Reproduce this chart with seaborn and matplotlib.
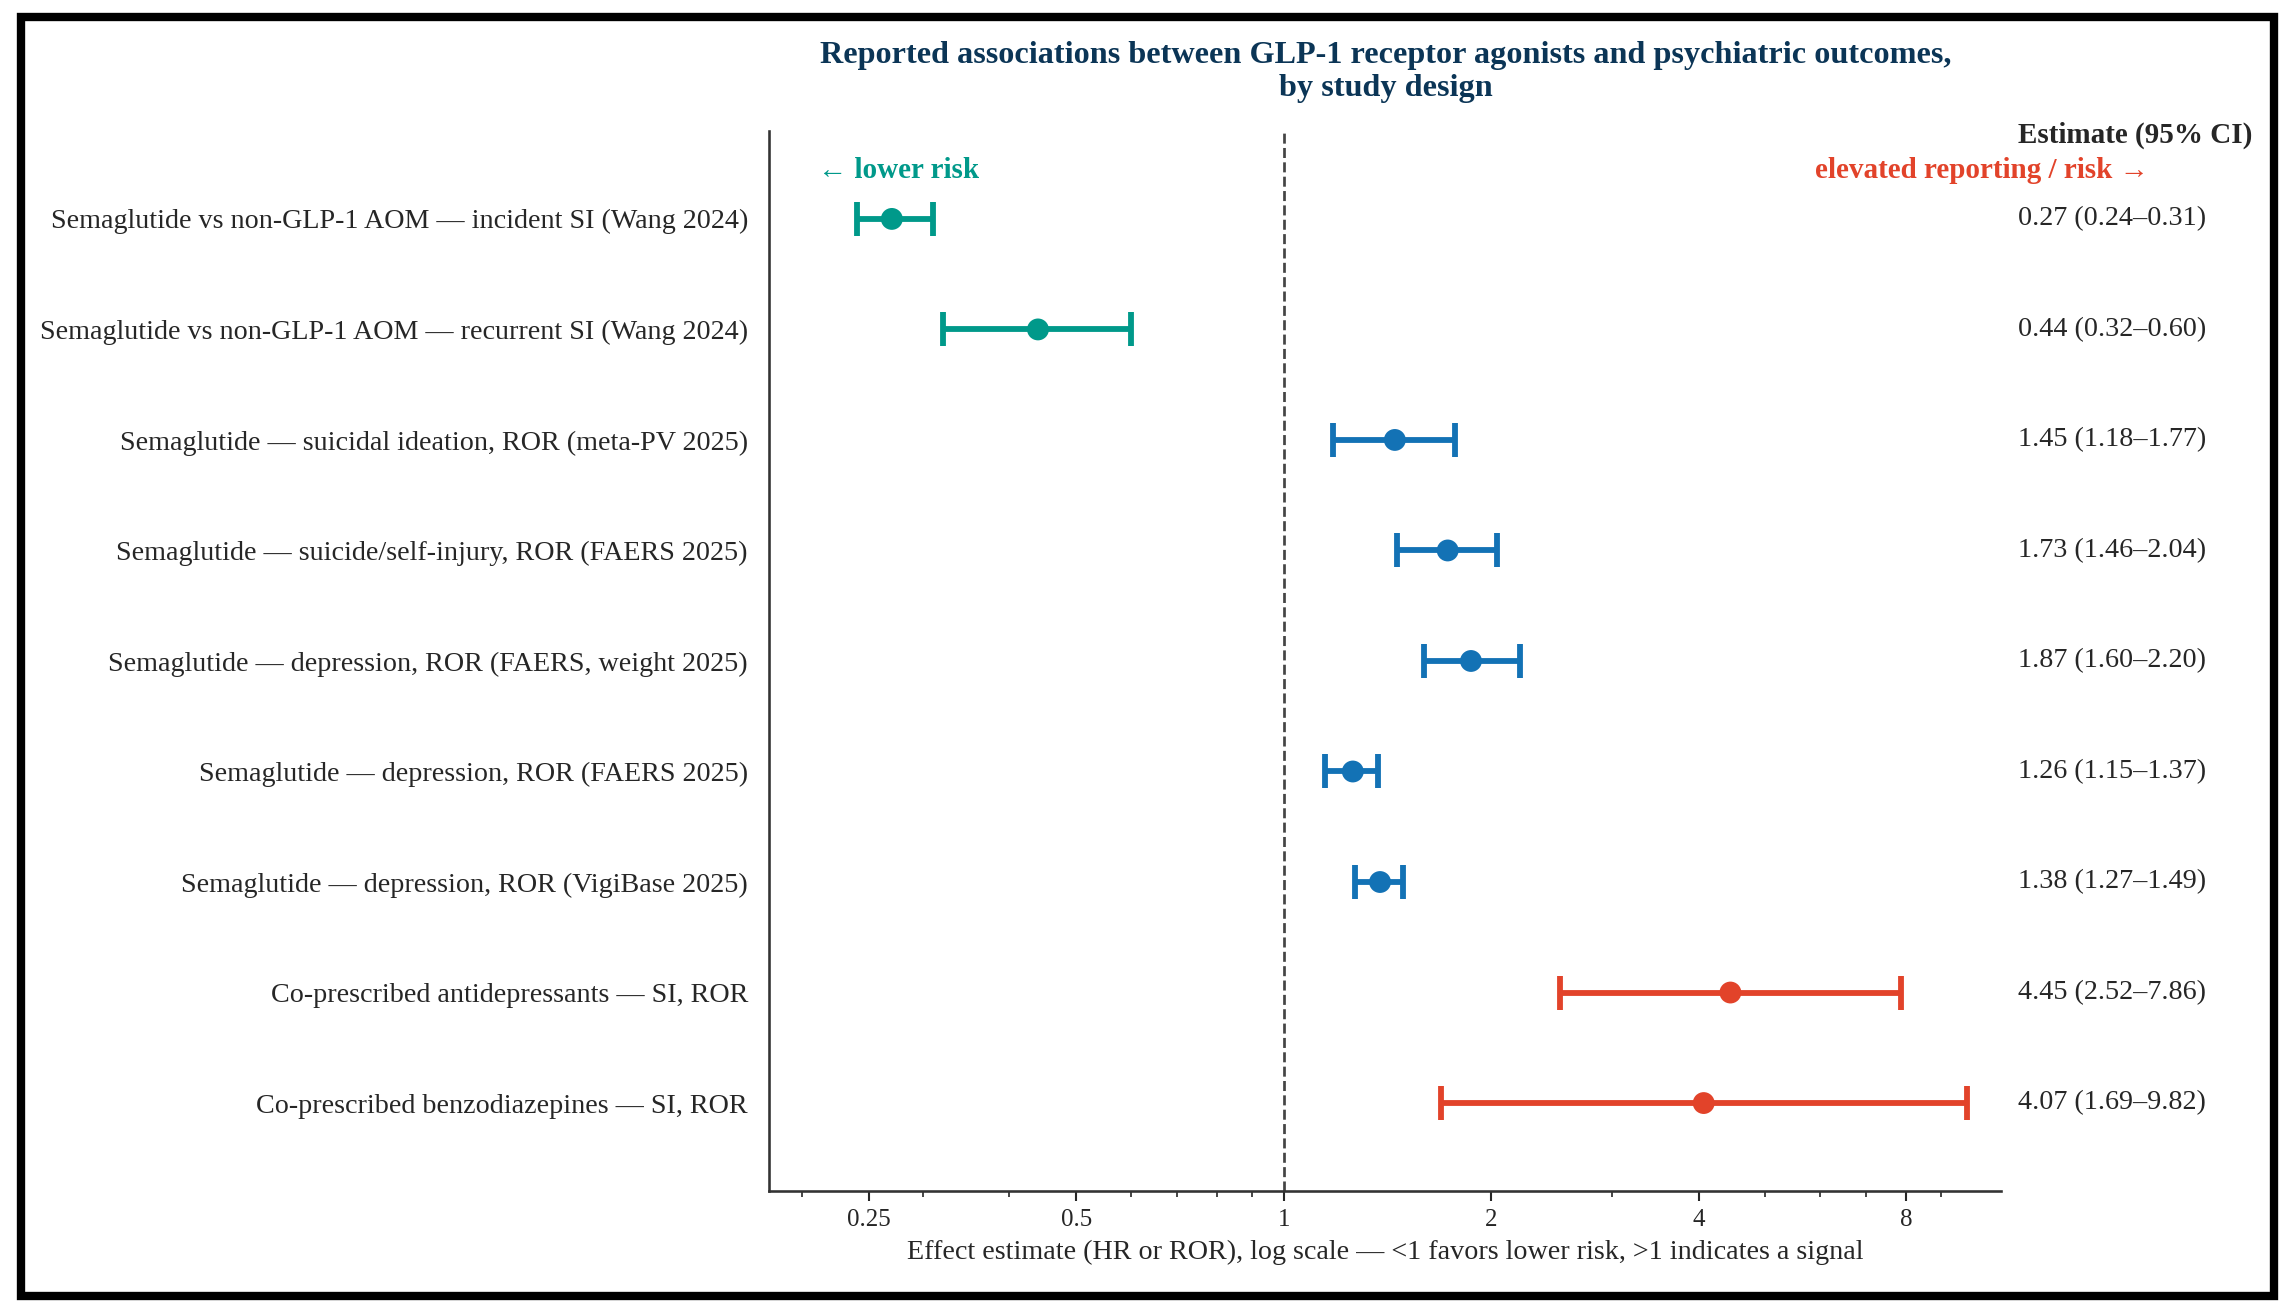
import numpy as np
import pandas as pd
import matplotlib.pyplot as plt
import seaborn as sns
from matplotlib.patches import Rectangle
from matplotlib.ticker import FixedLocator, NullFormatter, LogLocator

sns.set_theme(style="white")
plt.rcParams["font.family"] = ["Liberation Serif", "DejaVu Serif"]


# ── Data: estimates and 95% CI ─────────────────────────────────────────
df = pd.DataFrame({
    "label": [
        "Semaglutide vs non-GLP-1 AOM — incident SI (Wang 2024)",
        "Semaglutide vs non-GLP-1 AOM — recurrent SI (Wang 2024)",
        "Semaglutide — suicidal ideation, ROR (meta-PV 2025)",
        "Semaglutide — suicide/self-injury, ROR (FAERS 2025)",
        "Semaglutide — depression, ROR (FAERS, weight 2025)",
        "Semaglutide — depression, ROR (FAERS 2025)",
        "Semaglutide — depression, ROR (VigiBase 2025)",
        "Co-prescribed antidepressants — SI, ROR",
        "Co-prescribed benzodiazepines — SI, ROR",
    ],
    "est": [0.27, 0.44, 1.45, 1.73, 1.87, 1.26, 1.38, 4.45, 4.07],
    "lo":  [0.24, 0.32, 1.18, 1.46, 1.60, 1.15, 1.27, 2.52, 1.69],
    "hi":  [0.31, 0.60, 1.77, 2.04, 2.20, 1.37, 1.49, 7.86, 9.82],
    "group": ["lower", "lower", "pv", "pv", "pv", "pv", "pv", "co", "co"],
})
df["y"] = np.arange(len(df))
palette = {"lower": "#00998a", "pv": "#1372b5", "co": "#e2432a"}

fig = plt.figure(figsize=(15.3, 8.7), dpi=150)
ax = fig.add_axes([0.335, 0.087, 0.537, 0.813])

for _, r in df.iterrows():
    ax.errorbar(r["est"], r["y"], xerr=[[r["est"] - r["lo"]], [r["hi"] - r["est"]]],
                fmt="none", ecolor=palette[r["group"]], elinewidth=2.8,
                capsize=8, capthick=2.8, zorder=2)
sns.scatterplot(data=df, x="est", y="y", hue="group", palette=palette,
                s=110, edgecolor="none", legend=False, ax=ax, zorder=3)

ax.set_xscale("log", base=2)
ax.set_xlim(0.179, 11.0)
ax.set_ylim(8.8, -0.8)
ax.axvline(1, color="#444444", linestyle="--", linewidth=1.3, zorder=1)
ax.xaxis.set_major_locator(FixedLocator([0.25, 0.5, 1, 2, 4, 8]))
ax.set_xticklabels(["0.25", "0.5", "1", "2", "4", "8"])
ax.xaxis.set_minor_locator(LogLocator(base=10, subs=np.arange(2, 10)))
ax.xaxis.set_minor_formatter(NullFormatter())
ax.tick_params(axis="x", which="major", length=5, width=1, bottom=True, labelsize=12)
ax.tick_params(axis="x", which="minor", length=3, width=0.8, bottom=True)
ax.set_yticks(df["y"])
ax.set_yticklabels(df["label"], fontsize=13.5)
ax.tick_params(axis="y", length=0, pad=10)
ax.set_xlabel("Effect estimate (HR or ROR), log scale — <1 favors lower risk, >1 indicates a signal",
              fontsize=13.5, labelpad=4)
ax.set_ylabel("")
sns.despine(ax=ax)
for s in ["left", "bottom"]:
    ax.spines[s].set_color("#333333")

# Estimate column
for _, r in df.iterrows():
    ax.text(1.014, r["y"], f"{r['est']:.2f} ({r['lo']:.2f}–{r['hi']:.2f})",
            transform=ax.get_yaxis_transform(), va="center", ha="left", fontsize=13.5)
ax.text(1.014, -0.76, "Estimate (95% CI)", transform=ax.get_yaxis_transform(),
        va="center", ha="left", fontsize=14, fontweight="bold")

ax.text(0.04, 0.975, "← lower risk", transform=ax.transAxes, color=palette["lower"],
        fontsize=14, fontweight="bold", va="top", ha="left")
ax.text(1.12, 0.975, "elevated reporting / risk →", transform=ax.transAxes,
        color=palette["co"], fontsize=14, fontweight="bold", va="top", ha="right", clip_on=False)

fig.text(0.604, 0.945, "Reported associations between GLP-1 receptor agonists and psychiatric outcomes,\nby study design",
         ha="center", va="center", fontsize=15.5, fontweight="bold", color="#0b3556")

fig.patches.append(Rectangle((0.009, 0.007), 0.982, 0.98, transform=fig.transFigure,
                             fill=False, edgecolor="black", linewidth=4))

fig.savefig("out.png", dpi=150)
plt.close()
